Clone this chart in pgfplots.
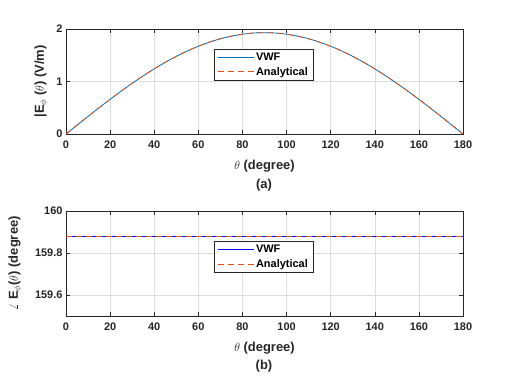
\documentclass[border=0pt]{standalone}
\usepackage{fontspec}
\setmainfont{Liberation Sans}
\usepackage{pgfplots}
\pgfplotsset{compat=1.18}
\usepackage{pgfplotstable}
\definecolor{mblue}{rgb}{0,0.447,0.741}
\definecolor{morange}{rgb}{0.85,0.325,0.098}
\definecolor{axgray}{rgb}{0.15,0.15,0.15}

\pgfplotstableread{
theta mag
0 0
5 0.168
10 0.335
15 0.500
20 0.660
25 0.816
30 0.965
35 1.107
40 1.241
45 1.365
50 1.478
55 1.581
60 1.671
65 1.749
70 1.814
75 1.864
80 1.901
85 1.923
90 1.930
95 1.923
100 1.901
105 1.864
110 1.814
115 1.749
120 1.671
125 1.581
130 1.478
135 1.365
140 1.241
145 1.107
150 0.965
155 0.816
160 0.660
165 0.500
170 0.335
175 0.168
180 0
}\magdata

\pgfplotstableread{
theta phase
0 159.88
45 159.88
90 159.88
135 159.88
180 159.88
}\phasedata

\pgfplotsset{
  mstyle/.style={
    scale only axis, width=397bp, height=105bp,
    xmin=0, xmax=180, xtick={0,20,...,180},
    grid=major, major grid style={line width=0.5bp, color=black!13},
    axis line style={axgray, line width=0.5bp},
    tick style={axgray, line width=0.5bp},
    tick align=inside, xtick pos=both, ytick pos=both, major tick length=4bp,
    ticklabel style={font=\fontsize{11}{13}\selectfont\bfseries, text=axgray},
    xticklabel style={yshift=-3bp},
    /pgf/number format/assume math mode=true,
    xlabel={$\theta$ (degree)},
    xlabel style={at={(axis description cs:0.5,-0.305)}, anchor=center,
      font=\fontsize{13}{15}\selectfont\bfseries, text=axgray},
    ylabel style={anchor=center, font=\fontsize{13}{15}\selectfont\bfseries, text=axgray},
    legend style={font=\fontsize{11}{13}\selectfont\bfseries, draw=none,
      fill=white, anchor=north west, inner xsep=3bp, inner ysep=1.5bp,
      row sep=1.5bp},
    legend cell align=left,
    legend image code/.code={\draw[#1] (0bp,0bp) -- (36bp,0bp);},
  },
}

\begin{document}
\begin{tikzpicture}
\fill[white] (0,0) rectangle (512bp,384bp);
\path[use as bounding box] (0,0) rectangle (512bp,384bp);

\begin{axis}[mstyle, at={(66bp,250bp)}, anchor=south west,
    ymin=0, ymax=2, ytick={0,1,2},
    ylabel={|E$_{\phi}$ ($\theta$) (V/m)},
    ylabel style={at={(axis description cs:-0.063,0.5)}},
    legend style={at={(0.373,0.81)}, name=legA}]
  \addplot[color=mblue, line width=0.8bp, smooth] table[x=theta, y=mag] {\magdata};
  \addlegendentry{VWF}
  \addplot[color=morange, line width=0.8bp, smooth, dash pattern=on 6bp off 4bp] table[x=theta, y=mag] {\magdata};
  \addlegendentry{Analytical}
\end{axis}
\draw[axgray, line width=0.5bp] (legA.south west) rectangle (legA.north east);
\node[font=\fontsize{13}{15}\selectfont\bfseries, text=axgray] at (264bp,199bp) {(a)};

\begin{axis}[mstyle, at={(66bp,68bp)}, anchor=south west,
    ymin=159.5, ymax=160, ytick={159.6,159.8,160},
    yticklabels={159.6,159.8,160},
    ylabel={$\angle$ E$_{\phi}$($\theta$) (degree)},
    ylabel style={at={(axis description cs:-0.1285,0.5)}},
    legend style={at={(0.373,0.714)}, name=legB}]
  \addplot[color=blue, line width=0.8bp] table[x=theta, y=phase] {\phasedata};
  \addlegendentry{VWF}
  \addplot[color=morange, line width=0.8bp, dash pattern=on 6bp off 4bp] table[x=theta, y=phase] {\phasedata};
  \addlegendentry{Analytical}
\end{axis}
\draw[axgray, line width=0.5bp] (legB.south west) rectangle (legB.north east);
\node[font=\fontsize{13}{15}\selectfont\bfseries, text=axgray] at (264bp,18bp) {(b)};
\end{tikzpicture}
\end{document}
